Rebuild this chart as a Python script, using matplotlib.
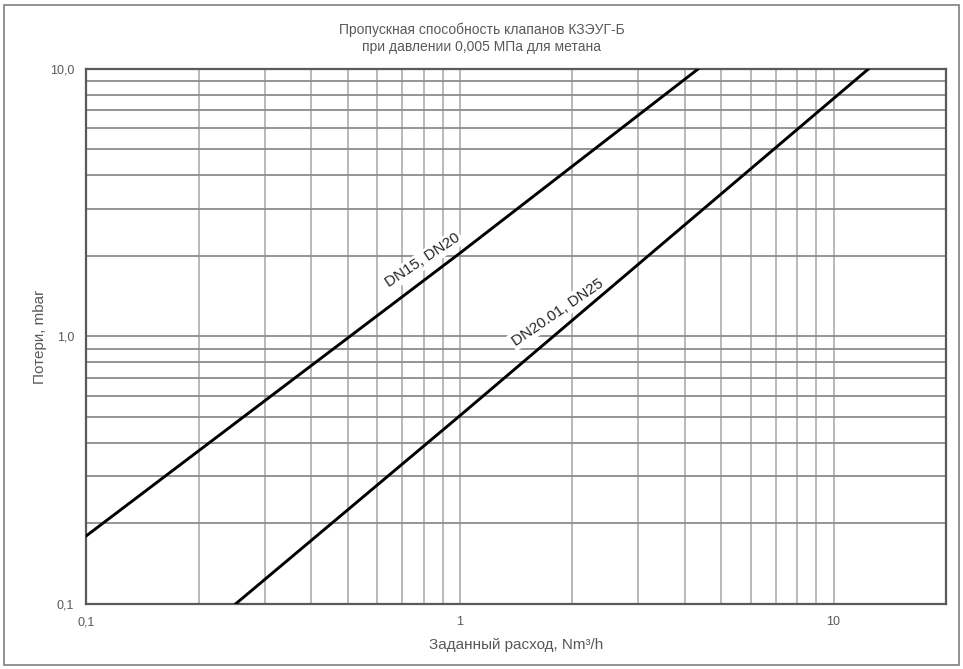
import matplotlib
matplotlib.use("Agg")
import matplotlib.pyplot as plt
from matplotlib.patches import Rectangle
from matplotlib.ticker import FixedLocator, FixedFormatter, LogLocator, NullFormatter

plt.rcParams['font.family'] = ['Liberation Sans', 'DejaVu Sans']

# flow, Nm3/h  ->  pressure loss, mbar
q_dn15 = [0.1, 1.0, 4.34]
dp_dn15 = [0.18, 2.05, 10.0]
q_dn25 = [0.2507, 1.0, 12.4]
dp_dn25 = [0.1, 0.506, 10.0]

xticks = [0.1, 1, 10]
xtick_labels = ["0,1", "1", "10"]
yticks = [0.1, 1, 10]
ytick_labels = ["0,1", "1,0", "10,0"]

label1 = "DN15, DN20"
label2 = "DN20.01, DN25"

grey = "#595959"

fig = plt.figure(figsize=(9.63, 6.69), dpi=100)
ax = fig.add_axes([0.0898, 0.0972, 0.8925, 0.7997])

# figure frame
fig.patches.append(Rectangle((4 / 963, 4 / 669), 955 / 963, 660 / 669,
                             transform=fig.transFigure, fill=False,
                             edgecolor="#7f7f7f", linewidth=1.2))

ax.set_xscale("log")
ax.set_yscale("log")
ax.set_xlim(0.1, 20)
ax.set_ylim(0.1, 10)

ax.plot(q_dn15, dp_dn15, color="black", linewidth=2.1, zorder=4)
ax.plot(q_dn25, dp_dn25, color="black", linewidth=2.1, zorder=4)

ax.xaxis.set_major_locator(FixedLocator(xticks))
ax.xaxis.set_major_formatter(FixedFormatter(xtick_labels))
ax.yaxis.set_major_locator(FixedLocator(yticks))
ax.yaxis.set_major_formatter(FixedFormatter(ytick_labels))
ax.xaxis.set_minor_locator(LogLocator(base=10, subs=range(2, 10)))
ax.yaxis.set_minor_locator(LogLocator(base=10, subs=range(2, 10)))
ax.xaxis.set_minor_formatter(NullFormatter())
ax.yaxis.set_minor_formatter(NullFormatter())

ax.grid(True, axis="x", which="both", color="#b3b3b3", linewidth=1.3)
ax.grid(True, axis="y", which="both", color="#8c8c8c", linewidth=1.3)
ax.set_axisbelow(True)

ax.tick_params(which="both", length=0, colors=grey, labelsize=9, pad=9)
for s in ax.spines.values():
    s.set_color("#595959")
    s.set_linewidth(1.6)

# curve labels, anchored at the right end of the baseline
ax.text(1.006, 2.295, label1, rotation=33.5, rotation_mode="anchor",
        ha="right", va="baseline", fontsize=11, color="#262626", zorder=3,
        bbox=dict(facecolor="white", edgecolor="none", pad=1.5))
ax.text(2.43, 1.557, label2, rotation=34.5, rotation_mode="anchor",
        ha="right", va="baseline", fontsize=11, color="#262626", zorder=3,
        bbox=dict(facecolor="white", edgecolor="none", pad=1.5))

ax.set_xlabel("Заданный расход, Nm³/h", color=grey, fontsize=11)
ax.set_ylabel("Потери, mbar", color=grey, fontsize=11)
ax.xaxis.set_label_coords(0.5, -0.063)
ax.yaxis.set_label_coords(-0.046, 0.5)
fig.text(0.5, 1 - 38 / 669, "Пропускная способность клапанов КЗЭУГ-Б\nпри давлении 0,005 МПа для метана",
         ha="center", va="center", color=grey, fontsize=10, linespacing=1.25)

fig.savefig("out.png", dpi=100)
